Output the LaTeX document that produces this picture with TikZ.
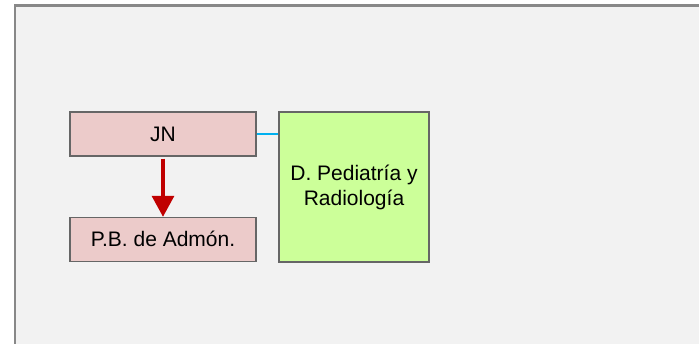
\documentclass[tikz,border=0pt]{standalone}
\usepackage{fontspec}
\setmainfont{Liberation Sans}
\usetikzlibrary{arrows.meta}
\definecolor{framegray}{HTML}{888888}
\definecolor{bggray}{HTML}{F2F2F2}
\definecolor{boxedge}{HTML}{666666}
\definecolor{pinkfill}{HTML}{ECCBCA}
\definecolor{greenfill}{HTML}{CCFF99}
\definecolor{redarrow}{HTML}{C00000}
\definecolor{bluelink}{HTML}{00B0F0}
\tikzset{
  orgbox/.style={draw=boxedge, line width=1.4pt, inner sep=0pt, font=\fontsize{21}{25}\selectfont},
  pinkbox/.style={orgbox, fill=pinkfill, minimum width=186pt, minimum height=44pt, text height=15pt, text depth=0pt},
  greenbox/.style={orgbox, fill=greenfill, minimum width=150pt, minimum height=150pt, align=center},
  redlink/.style={draw=redarrow, line width=3.3pt, -{Triangle[length=21pt,width=22pt]}},
  bluelinkstyle/.style={draw=bluelink, line width=2pt}
}
\begin{document}
\begin{tikzpicture}[x=1pt,y=-1pt]
\useasboundingbox (0,0) rectangle (699,344);
\fill[white] (0,0) rectangle (699,344);
\draw[framegray, line width=2.5pt, fill=bggray] (15,5.5) rectangle (720,360);
\node[pinkbox] (JN) at (163,134) {JN};
\node[pinkbox] (PB) at (163,239.5) {P.B. de Admón.};
\node[greenbox] (D) at (354,187) {D. Pediatría y\\Radiología};
\draw[redlink] ([yshift=-2pt]JN.south) -- (PB.north);
\draw[bluelinkstyle] (JN.east) -- (JN.east -| D.west);
\end{tikzpicture}
\end{document}
